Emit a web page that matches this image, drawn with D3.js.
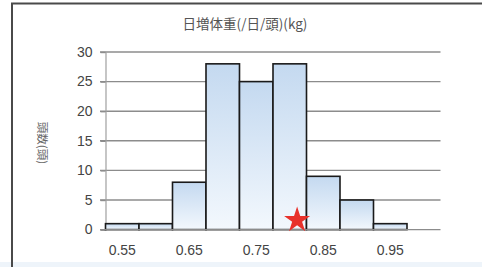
<!DOCTYPE html>
<html><head><meta charset="utf-8">
<script src="https://cdn.jsdelivr.net/npm/d3@7"></script>
<style>html,body{margin:0;padding:0;background:#fff;overflow:hidden}</style>
</head><body>
<svg id="c" width="482" height="267"></svg>
<script>
const categories = ["0.55","0.6","0.65","0.7","0.75","0.8","0.85","0.9","0.95","1.0"];
const counts = [1,1,8,28,25,28,9,5,1,0];
const xTickLabels = ["0.55","0.65","0.75","0.85","0.95"];
const yTicks = [0,5,10,15,20,25,30];
const titleText = "日増体重(/日/頭)(kg)";
const yTitle = "頭数(頭)";
const markerCategory = "0.8";  // star placed inside 0.8 bin (right part)

const svg = d3.select("#c");
const L = 105.5, R = 440.5, T = 52, B = 229.6;
const x = d3.scaleBand().domain(categories).range([L, R]).padding(0);
const y = d3.scaleLinear().domain([0, 30]).range([B, T]);

const defs = svg.append("defs");
const g = defs.append("linearGradient").attr("id","bg").attr("x1",0).attr("y1",0).attr("x2",0).attr("y2",1);
g.append("stop").attr("offset","0%").attr("stop-color","#c4d9f0");
g.append("stop").attr("offset","100%").attr("stop-color","#f3f8fd");

svg.append("rect").attr("x",0).attr("y",262).attr("width",482).attr("height",5).attr("fill","#eef4fa");

// frame
svg.append("path").attr("d","M12,267 L12,3.5 L482,3.5").attr("fill","none").attr("stroke","#4a4a4a").attr("stroke-width",2);

// title
svg.append("text").attr("x",245).attr("y",25).attr("text-anchor","middle").attr("dominant-baseline","middle")
  .attr("font-family","'Noto Sans CJK JP', sans-serif").attr("font-size",13.5).attr("fill","#555").text(titleText);

// gridlines
svg.append("g").selectAll("line").data(yTicks.filter(d=>d>0)).join("line")
  .attr("x1",100).attr("x2",R).attr("y1",d=>y(d)).attr("y2",d=>y(d))
  .attr("stroke","#8c8c8c").attr("stroke-width",1.4);

// y axis
const yAxis = d3.axisLeft(y).tickValues(yTicks).tickSize(5).tickPadding(8);
const ya = svg.append("g").attr("transform",`translate(${L},0)`).call(yAxis);
ya.select(".domain").attr("stroke","#a0a0a0").attr("stroke-width",1.2);
ya.selectAll(".tick line").attr("stroke","#8c8c8c").attr("stroke-width",1.4);
ya.selectAll(".tick text").attr("font-family","'Liberation Sans', Arial, sans-serif").attr("font-size",14).attr("fill","#444").attr("dy","0.3em");

// bars
svg.append("g").selectAll("rect").data(categories.map((c,i)=>({c,v:counts[i]})).filter(d=>d.v>0)).join("rect")
  .attr("x",d=>x(d.c)).attr("width",x.bandwidth())
  .attr("y",d=>y(d.v)).attr("height",d=>y(0)-y(d.v))
  .attr("fill","url(#bg)").attr("stroke","#1a1a1a").attr("stroke-width",1.6);

// x axis baseline
svg.append("line").attr("x1",100).attr("x2",R).attr("y1",y(0)).attr("y2",y(0)).attr("stroke","#8c8c8c").attr("stroke-width",1.4);

// x labels
svg.append("g").selectAll("text").data(xTickLabels).join("text")
  .attr("x",d=>x(d)+x.bandwidth()/2).attr("y",251).attr("text-anchor","middle").attr("dominant-baseline","middle")
  .attr("font-family","'Liberation Sans', Arial, sans-serif").attr("font-size",14).attr("fill","#444").text(d=>d);

// y title
svg.append("text").attr("transform",`translate(41,143) rotate(90)`).attr("text-anchor","middle").attr("dominant-baseline","middle")
  .attr("font-family","'Noto Sans CJK JP', sans-serif").attr("font-size",11.5).attr("fill","#666").text(yTitle);

// star marker
const star = d3.symbol().type(d3.symbolStar).size(210);
svg.append("path").attr("d",star()).attr("fill","#e8312a")
  .attr("transform",`translate(${x(markerCategory)+x.bandwidth()*0.72},${y(1.6)})`);
</script>
</body></html>
